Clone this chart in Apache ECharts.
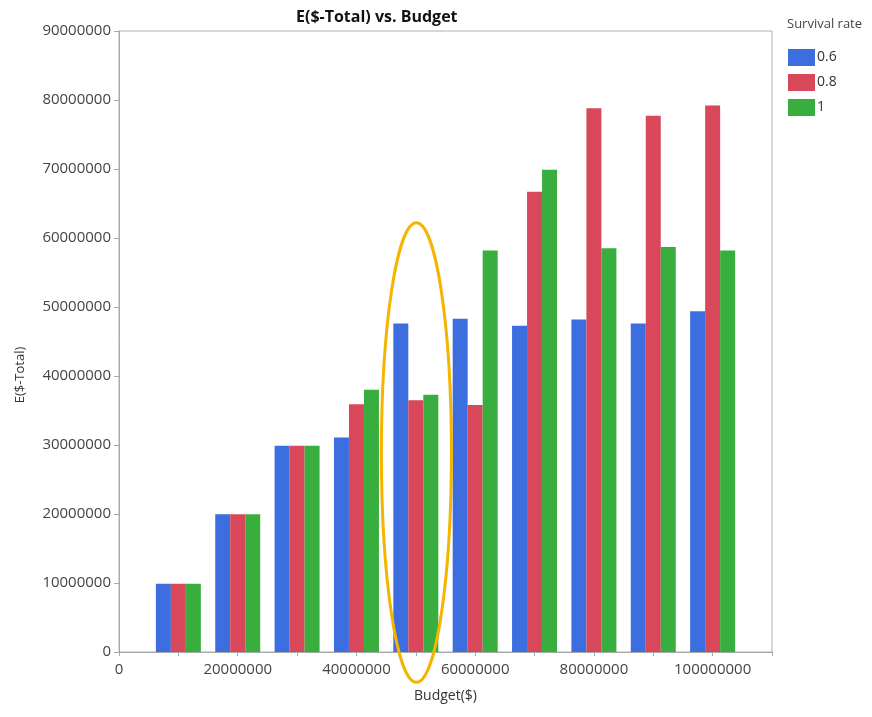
<!DOCTYPE html>
<html>
<head>
<meta charset="utf-8">
<style>html,body{margin:0;padding:0;background:#fff;}#chart{width:872px;height:717px;}</style>
<script src="https://cdn.jsdelivr.net/npm/echarts@6/dist/echarts.min.js"></script>
</head>
<body>
<div id="chart"></div>
<script>
// Data
const budgets = [10000000, 20000000, 30000000, 40000000, 50000000, 60000000, 70000000, 80000000, 90000000, 100000000];
const seriesNames = ['0.6', '0.8', '1'];
const rate06 = [9900000, 19950000, 29900000, 31100000, 47600000, 48300000, 47300000, 48200000, 47600000, 49400000];
const rate08 = [9900000, 19950000, 29900000, 35900000, 36500000, 35800000, 66700000, 78800000, 77700000, 79200000];
const rate10 = [9900000, 19950000, 29900000, 38000000, 37300000, 58200000, 69900000, 58500000, 58700000, 58200000];
// Highlight annotation: [centerX, centerY, radiusX, radiusY] in data units
const highlight = [[50100000, 28900000, 5900000, 33300000]];

const FONT = 'Open Sans';
const colors = ['#3d6ee0', '#d9475a', '#38ae3e'];

const chart = echarts.init(document.getElementById('chart'), null, {renderer: 'canvas'});

function barSeries(name, vals, color) {
  return {
    name: name,
    type: 'bar',
    data: budgets.map((b, i) => [b, vals[i]]),
    barWidth: 15,
    barGap: '0%',
    itemStyle: {color: color, borderWidth: 0},
    emphasis: {disabled: true}
  };
}

const plain = v => String(v);

chart.setOption({
  animation: false,
  backgroundColor: '#fff',
  title: [
    {text: 'E($-Total) vs. Budget', left: 291, top: 4,
     textStyle: {fontFamily: FONT, fontSize: 16, fontWeight: 'bold', color: '#111'}},
    {text: 'Survival rate', left: 782, top: 13,
     textStyle: {fontFamily: FONT, fontSize: 13, fontWeight: 'normal', color: '#444'}}
  ],
  legend: {
    orient: 'vertical', left: 783, top: 44,
    itemWidth: 27, itemHeight: 17, itemGap: 8,
    icon: 'rect',
    data: seriesNames,
    textStyle: {fontFamily: FONT, fontSize: 14, color: '#333', padding: [0, 0, 0, -3]}
  },
  grid: {left: 119, right: 100, top: 31, bottom: 65, show: true, borderColor: '#b0b0b0', borderWidth: 1, backgroundColor: '#fff'},
  xAxis: {
    type: 'value', min: 0, max: 110000000, interval: 20000000,
    name: 'Budget($)', nameLocation: 'middle', nameGap: 37,
    nameTextStyle: {fontFamily: FONT, fontSize: 14, color: '#333'},
    axisLine: {show: true, lineStyle: {color: '#a8a8a8'}},
    axisTick: {show: true, length: 4, lineStyle: {color: '#a8a8a8'}},
    minorTick: {show: true, splitNumber: 2, length: 4, lineStyle: {color: '#a8a8a8'}},
    splitLine: {show: false},
    axisLabel: {fontFamily: FONT, fontSize: 15, color: '#444', margin: 10, showMaxLabel: false, formatter: plain}
  },
  yAxis: {
    type: 'value', min: 0, max: 90000000, interval: 10000000,
    axisLine: {show: true, lineStyle: {color: '#a8a8a8'}},
    axisTick: {show: true, length: 5, lineStyle: {color: '#a8a8a8'}},
    splitLine: {show: false},
    axisLabel: {fontFamily: FONT, fontSize: 15, color: '#444', margin: 8, formatter: plain}
  },
  graphic: [
    {type: 'text', x: 20, y: 375, rotation: Math.PI / 2,
     style: {text: 'E($-Total)', fontFamily: FONT, fontSize: 13, fill: '#333', textAlign: 'center', textVerticalAlign: 'middle'}}
  ],
  series: [
    barSeries(seriesNames[0], rate06, colors[0]),
    barSeries(seriesNames[1], rate08, colors[1]),
    barSeries(seriesNames[2], rate10, colors[2]),
    {
      type: 'custom',
      name: 'highlight',
      clip: false,
      z: 10,
      silent: true,
      data: highlight,
      encode: {x: 0, y: 1},
      renderItem: function (params, api) {
        const c = api.coord([api.value(0), api.value(1)]);
        const s = api.size([api.value(2), api.value(3)]);
        return {
          type: 'ellipse',
          shape: {cx: c[0], cy: c[1], rx: s[0], ry: s[1]},
          style: {fill: 'none', stroke: '#f5b400', lineWidth: 3}
        };
      }
    }
  ]
});
</script>
</body>
</html>
